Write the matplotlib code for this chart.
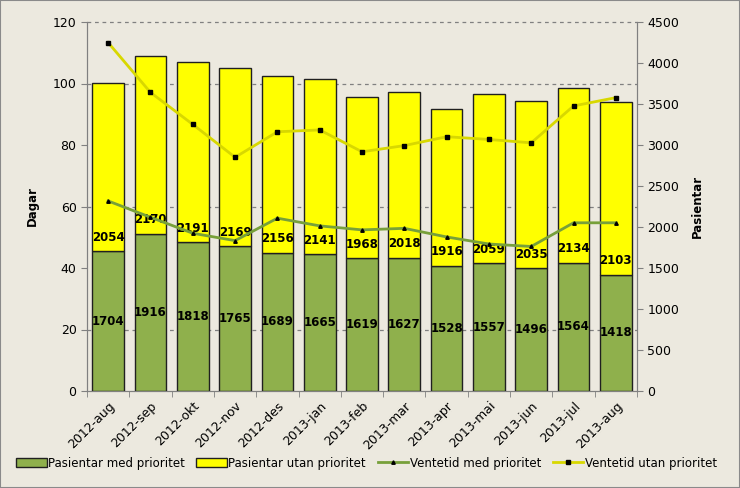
import matplotlib
matplotlib.use("Agg")
import matplotlib.pyplot as plt
import numpy as np
from matplotlib.patches import Patch
from matplotlib.lines import Line2D

months = ["2012-aug", "2012-sep", "2012-okt", "2012-nov", "2012-des", "2013-jan",
          "2013-feb", "2013-mar", "2013-apr", "2013-mai", "2013-jun", "2013-jul", "2013-aug"]
med_prio = [1704, 1916, 1818, 1765, 1689, 1665, 1619, 1627, 1528, 1557, 1496, 1564, 1418]
utan_prio = [2054, 2170, 2191, 2169, 2156, 2141, 1968, 2018, 1916, 2059, 2035, 2134, 2103]
vent_med = [61.8, 56.5, 51.3, 48.9, 56.2, 53.7, 52.4, 52.9, 50.1, 47.8, 47.0, 54.7, 54.7]
vent_utan = [113.3, 97.1, 86.7, 76.0, 84.3, 84.9, 77.8, 79.8, 82.7, 81.8, 80.7, 92.7, 95.4]

BG = "#ECE9DF"
GREEN = "#8FB04C"
YELLOW = "#FFFF00"
LGREEN = "#77A03A"
LYELLOW = "#D8D800"

fig = plt.figure(figsize=(7.4, 4.88), dpi=100, facecolor=BG)
fig.patches.append(plt.Rectangle((0, 0), 1, 1, transform=fig.transFigure,
                                 fill=False, edgecolor="#8A8A8A", linewidth=1.5))
ax = fig.add_axes([87/740, 1-391/488, (637-87)/740, (391-22)/488])
ax.set_facecolor(BG)
ax2 = ax.twinx()
x = np.arange(len(months))

ax.bar(x, med_prio, width=0.75, color=GREEN, edgecolor="#202020", linewidth=1.0, zorder=3)
ax.bar(x, utan_prio, bottom=med_prio, width=0.75, color=YELLOW, edgecolor="#202020",
       linewidth=1.0, zorder=3)
for i in range(len(months)):
    ax.text(x[i], med_prio[i] / 2, str(med_prio[i]), ha="center", va="center",
            fontsize=8.5, fontweight="bold", zorder=4)
    ax.annotate(str(utan_prio[i]), (x[i], med_prio[i]), xytext=(0, 10),
                textcoords="offset points", ha="center", va="center",
                fontsize=8.5, fontweight="bold", zorder=4)

ax.set_ylim(0, 4500)
ax.set_xlim(-0.5, len(months) - 0.5)
ax.yaxis.tick_right()
ax.yaxis.set_label_position("right")
ax.set_yticks(np.arange(0, 4501, 500))
ax.set_yticks(np.arange(750, 4501, 750), minor=True)
ax.tick_params(axis="y", which="minor", length=0)
ax.grid(axis="y", which="minor", linestyle=(0, (3, 3)), color="#808080", linewidth=0.9, zorder=0)
ax.axhline(4500, linestyle=(0, (3, 3)), color="#808080", linewidth=0.9, zorder=0, clip_on=False)
ax.set_axisbelow(True)
ax.set_ylabel("Pasientar", fontsize=8.5, fontweight="bold", labelpad=8)

ax.set_xticks(x)
ax.set_xticklabels(months, rotation=45, ha="right", rotation_mode="anchor", fontsize=9)
ax.set_xticks(np.arange(-0.5, len(months), 1), minor=True)
ax.tick_params(axis="x", which="major", length=0, pad=6)
ax.tick_params(axis="x", which="minor", length=4, color="#808080")
ax.tick_params(axis="y", which="major", length=4, color="#808080", labelsize=9)

ax2.yaxis.tick_left()
ax2.yaxis.set_label_position("left")
ax2.plot(x, vent_med, color=LGREEN, linewidth=2, marker="^", markersize=2.5,
         markerfacecolor="black", markeredgecolor="black", zorder=5)
ax2.plot(x, vent_utan, color=LYELLOW, linewidth=2, marker="s", markersize=2.5,
         markerfacecolor="black", markeredgecolor="black", zorder=5)
ax2.set_ylim(0, 120)
ax2.set_yticks(np.arange(0, 121, 20))
ax2.tick_params(axis="y", length=4, color="#808080", labelsize=9)
ax2.set_ylabel("Dagar", fontsize=8.5, fontweight="bold", labelpad=10)

for a in (ax, ax2):
    a.spines["top"].set_visible(False)
    for s in ("left", "right", "bottom"):
        a.spines[s].set_color("#808080")

handles = [Patch(facecolor=GREEN, edgecolor="#202020", label="Pasientar med prioritet"),
           Patch(facecolor=YELLOW, edgecolor="#202020", label="Pasientar utan prioritet"),
           Line2D([], [], color=LGREEN, linewidth=2, marker="^", markersize=2.5,
                  markerfacecolor="black", markeredgecolor="black", label="Ventetid med prioritet"),
           Line2D([], [], color=LYELLOW, linewidth=2, marker="s", markersize=2.5,
                  markerfacecolor="black", markeredgecolor="black", label="Ventetid utan prioritet")]
fig.legend(handles=handles, loc="center", bbox_to_anchor=(0.495, 1-463/488), ncol=4,
           frameon=False, fontsize=8.5, handlelength=2.6, handleheight=0.8,
           handletextpad=0.1, columnspacing=1.0)

fig.savefig("out.png", dpi=100, facecolor=BG)
